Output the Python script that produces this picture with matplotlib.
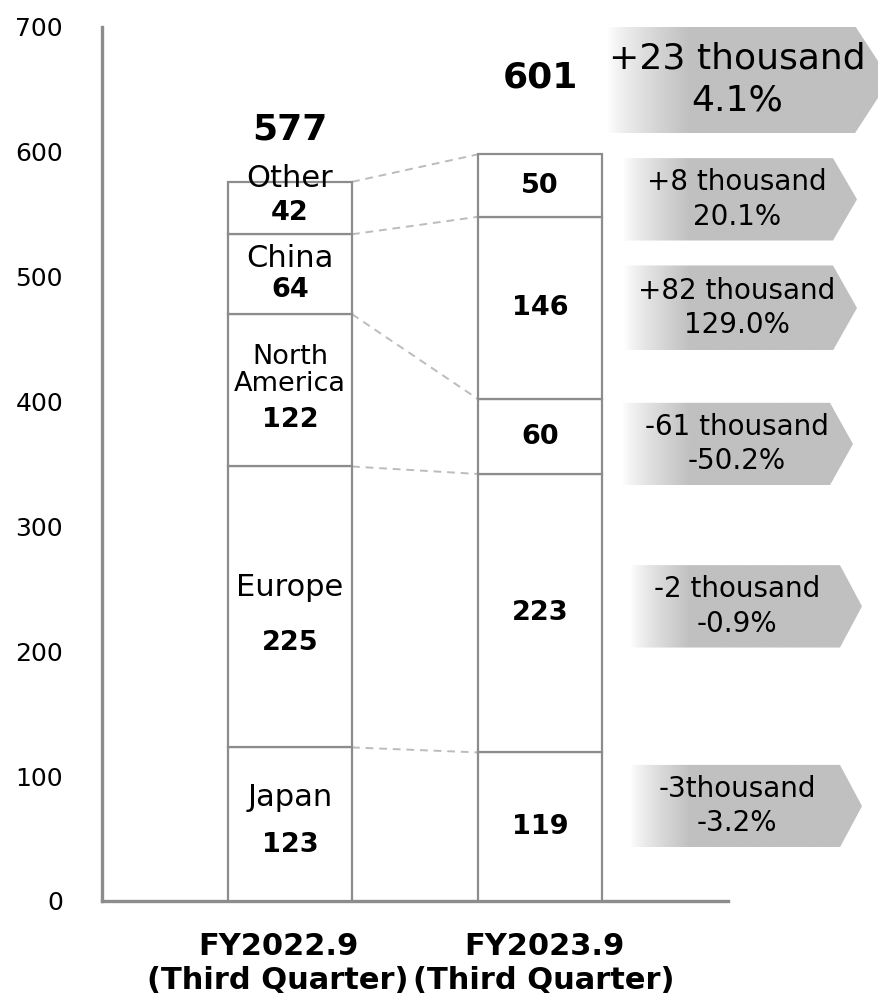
import numpy as np
import matplotlib
matplotlib.use("Agg")
import matplotlib.pyplot as plt
from matplotlib.patches import Polygon
from matplotlib.colors import to_rgb
from matplotlib.transforms import ScaledTranslation

plt.rcParams['font.family'] = ['DejaVu Sans']

# ---------------- data ----------------
regions = ["Japan", "Europe", "North\nAmerica", "China", "Other"]
fy2022 = [123, 225, 122, 64, 42]
fy2023 = [119, 223, 60, 146, 50]
totals = [577, 601]
categories = ["FY2022.9\n(Third Quarter)", "FY2023.9\n(Third Quarter)"]
change_total = "+23 thousand\n4.1%"
change_labels = ["-3thousand\n-3.2%", "-2 thousand\n-0.9%", "-61 thousand\n-50.2%",
                 "+82 thousand\n129.0%", "+8 thousand\n20.1%"]
yticks = [0, 100, 200, 300, 400, 500, 600, 700]

# ---------------- layout ----------------
W, H = 879, 1001
fig = plt.figure(figsize=(W / 100, H / 100), dpi=100)
ax_l, ax_r, ax_b, ax_t = 102, 728, 901, 27
ax = fig.add_axes([ax_l / W, 1 - ax_b / H, (ax_r - ax_l) / W, (ax_b - ax_t) / H])
xpos = np.array([0, 1])
bar_w = 0.496
ax.set_xlim(-0.752, 1.752)
ax.set_ylim(0, 700)

edge_col = "#8c8c8c"
for i, vals in enumerate([fy2022, fy2023]):
    bottoms = np.concatenate([[0], np.cumsum(vals)[:-1]])
    ax.bar(np.full(len(vals), xpos[i]), vals, bottom=bottoms, width=bar_w,
           color="white", edgecolor=edge_col, linewidth=1.6, zorder=3)

# dashed connectors between segment tops
tops1 = np.cumsum(fy2022)
tops2 = np.cumsum(fy2023)
for a, b in zip(tops1, tops2):
    ax.plot([xpos[0] + bar_w / 2, xpos[1] - bar_w / 2], [a, b], ls=(0, (4, 3)),
            color="#bcbcbc", lw=1.4, zorder=2)

# bar 1 labels (name + value)
name_off = [27, 19, 20, 16, 30]
val_off = [-21, -36, -30, -16, -5]
cent1 = np.cumsum(fy2022) - np.array(fy2022) / 2
for i, (nm, v) in enumerate(zip(regions, fy2022)):
    fs = 19.5 if "\n" in nm else 22
    ax.annotate(nm, (xpos[0], cent1[i]), xytext=(0, name_off[i]), textcoords="offset pixels",
                ha="center", va="center", fontsize=fs, zorder=5, linespacing=1.05)
    ax.annotate(str(v), (xpos[0], cent1[i]), xytext=(0, val_off[i]), textcoords="offset pixels",
                ha="center", va="center", fontsize=19.5, fontweight="bold", zorder=5)

cent2 = np.cumsum(fy2023) - np.array(fy2023) / 2
for i, v in enumerate(fy2023):
    ax.text(xpos[1], cent2[i], str(v), ha="center", va="center", fontsize=19.5,
            fontweight="bold", zorder=5)

# totals
ax.annotate(str(totals[0]), (xpos[0], tops1[-1]), xytext=(0, 52), textcoords="offset pixels",
            ha="center", va="center", fontsize=26, fontweight="bold")
ax.annotate(str(totals[1]), (xpos[1], tops2[-1]), xytext=(0, 77), textcoords="offset pixels",
            ha="center", va="center", fontsize=26, fontweight="bold")

# axes styling
for s in ["top", "right"]:
    ax.spines[s].set_visible(False)
for s in ["left", "bottom"]:
    ax.spines[s].set_color("#8c8c8c")
    ax.spines[s].set_linewidth(2.4)
ax.set_yticks(yticks)
ax.tick_params(axis="y", length=0, pad=28, labelsize=18)
ax.set_xticks(xpos)
ax.set_xticklabels(categories, fontsize=22, fontweight="bold", linespacing=1.22)
ax.tick_params(axis="x", length=0, pad=22)
for lab, dx in zip(ax.get_xticklabels(), [-12, 4]):
    lab.set_transform(lab.get_transform() + ScaledTranslation(dx / 100, 0, fig.dpi_scale_trans))

# ---------------- change arrows ----------------
ax2 = fig.add_axes([600 / W, 1 - ax_b / H, (W - 600) / W, (ax_b - ax_t) / H])
ax2.axis("off")
ax2.patch.set_alpha(0)

# (y center data, height data, left px, notch px, tip px, fontsize)
arrow_layout = [
    (658, 86, 607, 855, 890, 26),
    (76, 66, 630, 840, 862, 20),
    (236, 66, 630, 840, 862, 20),
    (366, 66, 622, 830, 853, 20),
    (475, 68, 624, 833, 857, 20),
    (562, 66, 623, 833, 857, 20),
]
texts = [change_total] + change_labels
gray = np.array(to_rgb("#c0c0c0"))
for (yc, hh, xl, xn, xt, fs), txt in zip(arrow_layout, texts):
    y0, y1 = yc - hh / 2, yc + hh / 2
    poly = Polygon([(xl, y0), (xn, y0), (xt, yc), (xn, y1), (xl, y1)], closed=True,
                   facecolor="none", edgecolor="none", transform=ax2.transData)
    ax2.add_patch(poly)
    n = 300
    xs = np.linspace(xl, xt, n)
    t = np.clip((xs - xl) / (690 - xl), 0, 1) ** 0.8
    img = (1 - t)[:, None] * np.ones(3) + t[:, None] * gray
    img = img[None, :, :]
    im = ax2.imshow(img, extent=[xl, xt, y0, y1], aspect="auto", zorder=1,
                    interpolation="bilinear")
    im.set_clip_path(poly)
    ax2.text(737, yc, txt, ha="center", va="center", fontsize=fs, zorder=3,
             linespacing=1.3)
ax2.set_xlim(600, W)
ax2.set_ylim(0, 700)

fig.savefig("out.png", dpi=100)
